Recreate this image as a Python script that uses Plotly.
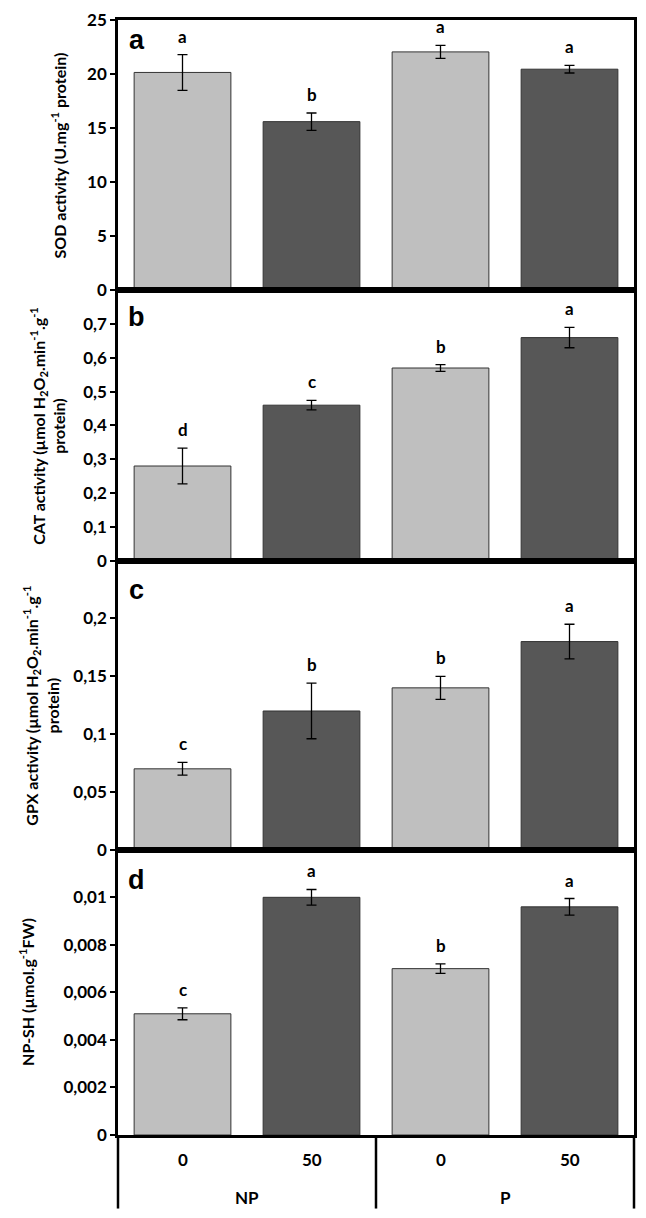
import plotly.graph_objects as go

# ---- data ----
dose = ["0", "50", "0", "50"]
treatment = ["NP", "NP", "P", "P"]
groups = ["NP", "P"]

sod = [20.15, 15.6, 22.05, 20.45]
sod_err = [1.65, 0.8, 0.6, 0.35]
sod_letters = ["a", "b", "a", "a"]

cat = [0.28, 0.46, 0.57, 0.66]
cat_err = [0.053, 0.014, 0.01, 0.03]
cat_letters = ["d", "c", "b", "a"]

gpx = [0.07, 0.12, 0.14, 0.18]
gpx_err = [0.0055, 0.024, 0.01, 0.015]
gpx_letters = ["c", "b", "b", "a"]

npsh = [0.0051, 0.0100, 0.0070, 0.0096]
npsh_err = [0.00025, 0.00033, 0.0002, 0.00035]
npsh_letters = ["c", "a", "b", "a"]

sod_ticks = [0, 5, 10, 15, 20, 25]
sod_ticktext = ["0", "5", "10", "15", "20", "25"]
cat_ticks = [0, 0.1, 0.2, 0.3, 0.4, 0.5, 0.6, 0.7]
cat_ticktext = ["0", "0,1", "0,2", "0,3", "0,4", "0,5", "0,6", "0,7"]
gpx_ticks = [0, 0.05, 0.1, 0.15, 0.2]
gpx_ticktext = ["0", "0,05", "0,1", "0,15", "0,2"]
npsh_ticks = [0, 0.002, 0.004, 0.006, 0.008, 0.01]
npsh_ticktext = ["0", "0,002", "0,004", "0,006", "0,008", "0,01"]

panel_labels = ["a", "b", "c", "d"]
y_titles = [
    "SOD activity (U.mg<sup>-1</sup> protein)",
    "CAT activity (µmol H<sub>2</sub>O<sub>2</sub>.min<sup>-1</sup>.g<sup>-1</sup><br>protein)",
    "GPX activity (µmol H<sub>2</sub>O<sub>2</sub>.min<sup>-1</sup>.g<sup>-1</sup><br>protein)",
    "NP-SH (µmol.g<sup>-1</sup>FW)",
]

# ---- styling ----
OFF = 8  # default body margin of the html page
W, H = 646 - 2 * OFF, 1218 - 2 * OFF
ML = 118 - OFF
MR = W - (637 - OFF)
MT = 13 - OFF
MB = H - (1135 - OFF)
PH = H - MT - MB
PW = W - ML - MR
x_idx = list(range(len(dose)))
bar_colors = ["#bfbfbf", "#575757", "#bfbfbf", "#575757"]
FONT = "Lato"
TICK_SIZE = 17
TITLE_SIZE = 16

def py(pix):
    return (H - MB - (pix - OFF)) / PH

def px(pix):
    return (pix - OFF - ML) / PW

panels = [
    (sod, sod_err, sod_letters, sod_ticks, sod_ticktext, [0, 25], (13, 285)),
    (cat, cat_err, cat_letters, cat_ticks, cat_ticktext, [0, 0.8], (285, 557)),
    (gpx, gpx_err, gpx_letters, gpx_ticks, gpx_ticktext, [0, 0.25], (557, 848)),
    (npsh, npsh_err, npsh_letters, npsh_ticks, npsh_ticktext, [0, 0.012], (848, 1135)),
]
title_x = [58, 48, 41, 26]
label_y_off = [20, 27, 30, 30]

fig = go.Figure()
layout = dict(
    width=W, height=H,
    margin=dict(l=ML, r=MR, t=MT, b=MB),
    plot_bgcolor="white", paper_bgcolor="white",
    showlegend=False,
    font=dict(family=FONT, color="black"),
    bargap=0.25,
)
annotations = []
shapes = []

for k, (vals, errs, letters, tv, tt, yr, (top, bot)) in enumerate(panels):
    n = "" if k == 0 else str(k + 1)
    fig.add_trace(go.Bar(
        x=x_idx, y=vals, width=0.75,
        marker=dict(color=bar_colors, line=dict(color="#333333", width=1)),
        error_y=dict(type="data", array=errs, color="black", thickness=1.3, width=5),
        xaxis="x" + n, yaxis="y" + n,
    ))
    layout["xaxis" + n] = dict(
        domain=[0, 1], range=[-0.5, 3.5], anchor="y" + n,
        showticklabels=False, ticks="", showgrid=False, zeroline=False,
        showline=True, linecolor="black", linewidth=2.5, mirror=True,
        fixedrange=True,
    )
    layout["yaxis" + n] = dict(
        domain=[max(0, py(bot)), min(1, py(top))], range=yr, anchor="x" + n,
        tickvals=tv, ticktext=tt, ticks="outside", ticklen=5, tickwidth=1.5,
        tickcolor="black", showgrid=False, zeroline=False,
        showline=True, linecolor="black", linewidth=2.5, mirror=True,
        ticklabeloverflow="allow",
        tickfont=dict(family=FONT, size=TICK_SIZE, color="black", weight="bold"),
    )
    for i in x_idx:
        annotations.append(dict(
            x=i, y=vals[i] + errs[i], xref="x" + n, yref="y" + n,
            text=letters[i], showarrow=False, yanchor="bottom", yshift=6,
            font=dict(family=FONT, size=TICK_SIZE, color="black", weight="bold"),
        ))
    annotations.append(dict(
        x=px(137), y=py(top + label_y_off[k]), xref="paper", yref="paper",
        text=panel_labels[k], showarrow=False, xanchor="center", yanchor="middle",
        font=dict(family="Liberation Sans", size=27, color="black", weight="bold"),
    ))
    annotations.append(dict(
        x=px(title_x[k]), y=py((top + bot) / 2), xref="paper", yref="paper",
        text=y_titles[k], showarrow=False, textangle=-90,
        xanchor="center", yanchor="middle",
        font=dict(family=FONT, size=TITLE_SIZE, color="black", weight="bold"),
    ))

# bottom category table
for i in x_idx:
    annotations.append(dict(
        x=i, y=py(1160), xref="x4", yref="paper", text=dose[i], showarrow=False,
        yanchor="middle", font=dict(family=FONT, size=TICK_SIZE, color="black", weight="bold"),
    ))
for g in groups:
    members = [i for i in x_idx if treatment[i] == g]
    annotations.append(dict(
        x=sum(members) / len(members), y=py(1198), xref="x4", yref="paper",
        text=g, showarrow=False, yanchor="middle",
        font=dict(family=FONT, size=TICK_SIZE, color="black", weight="bold"),
    ))

y_bottom = py(1209)
shapes.append(dict(type="line", xref="paper", yref="paper", x0=0, x1=0, y0=0, y1=y_bottom,
                   line=dict(color="black", width=2.5)))
shapes.append(dict(type="line", xref="paper", yref="paper", x0=1, x1=1, y0=0, y1=y_bottom,
                   line=dict(color="black", width=2.5)))
shapes.append(dict(type="line", xref="x4", yref="paper", x0=1.5, x1=1.5, y0=0, y1=y_bottom,
                   line=dict(color="black", width=2.5)))

layout["annotations"] = annotations
layout["shapes"] = shapes
fig.update_layout(**layout)
fig.write_html("out.html")
